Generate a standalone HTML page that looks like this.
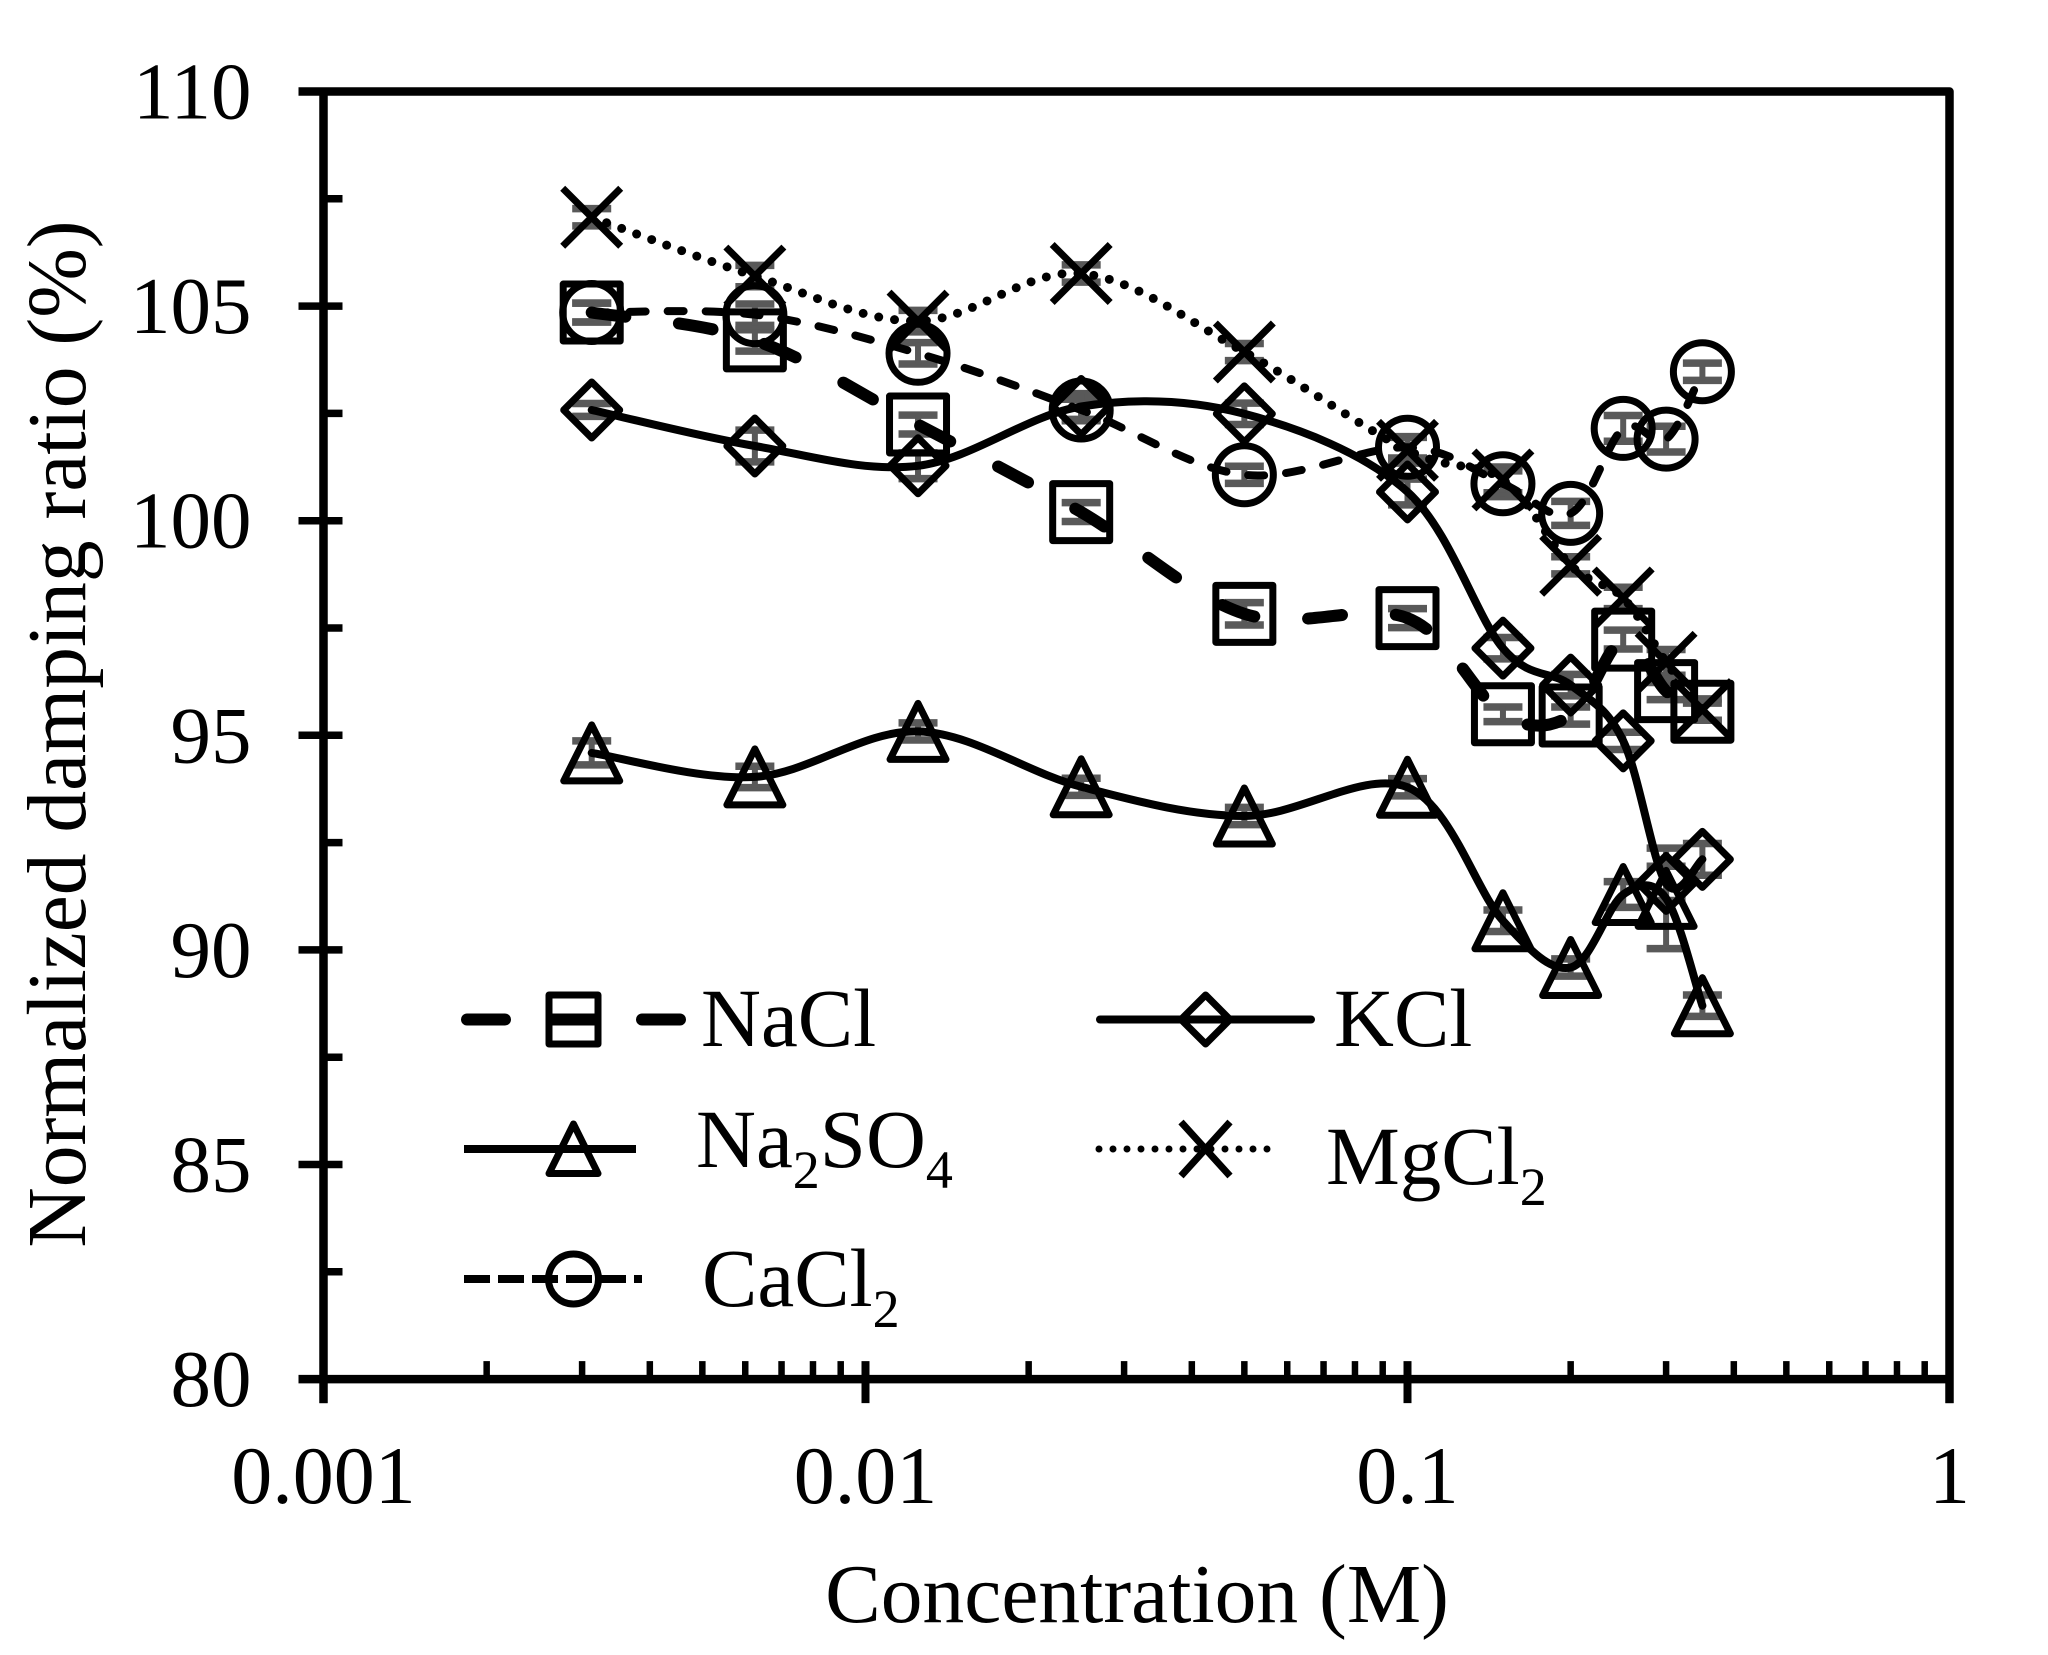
<!DOCTYPE html>
<html lang="en">
<head>
<meta charset="utf-8">
<title>Normalized damping ratio versus concentration</title>
<style>
html,body{margin:0;padding:0;background:#fff;}
svg{display:block;}
text{font-family:"Liberation Serif","Times New Roman",serif;fill:#000;}
</style>
</head>
<body>
<svg id="chart" xmlns="http://www.w3.org/2000/svg" width="2048" height="1655" viewBox="0 0 2048 1655">
<rect x="0" y="0" width="2048" height="1655" fill="#fff"/>
<g id="errors"></g>
<g id="series"></g>
<g id="axes"></g>
<text x="1137" y="1622" font-size="83.5" text-anchor="middle">Concentration (M)</text>
<text transform="translate(85 734) rotate(-90)" font-size="83.5" text-anchor="middle">Normalized damping ratio (%)</text>
<g>
  <g>
    <line x1="467" y1="1019.5" x2="680" y2="1019.5" stroke="#000" stroke-width="12" stroke-linecap="round" stroke-dasharray="38 47 43 47 38"/>
    <rect x="549" y="995" width="49" height="49" fill="none" stroke="#000" stroke-width="7" stroke-linejoin="round"/>
    <text x="701" y="1046" font-size="83">NaCl</text>
  </g>
  <g>
    <line x1="464" y1="1149" x2="636" y2="1149" stroke="#000" stroke-width="8"/>
    <path d="M573.5 1124 L598 1173.5 L549 1173.5 Z" fill="none" stroke="#000" stroke-width="7" stroke-linejoin="round"/>
    <text x="696" y="1167" font-size="83">Na<tspan font-size="54" dy="21">2</tspan><tspan dy="-21">SO</tspan><tspan font-size="54" dy="21">4</tspan></text>
  </g>
  <g>
    <line x1="464" y1="1279" x2="642" y2="1279" stroke="#000" stroke-width="8" stroke-dasharray="26 8"/>
    <circle cx="573.5" cy="1279" r="25" fill="none" stroke="#000" stroke-width="7"/>
    <text x="702" y="1306" font-size="83">CaCl<tspan font-size="54" dy="21">2</tspan></text>
  </g>
  <g>
    <line x1="1100" y1="1019.5" x2="1311" y2="1019.5" stroke="#000" stroke-width="8" stroke-linecap="round"/>
    <path d="M1205.6 995 L1230 1019.5 L1205.6 1044 L1181 1019.5 Z" fill="none" stroke="#000" stroke-width="7" stroke-linejoin="round"/>
    <text x="1334" y="1046" font-size="83">KCl</text>
  </g>
  <g>
    <line x1="1099" y1="1149" x2="1268" y2="1149" stroke="#000" stroke-width="7" stroke-linecap="round" stroke-dasharray="0 14"/>
    <path d="M1181 1122 L1230 1176 M1230 1122 L1181 1176" fill="none" stroke="#000" stroke-width="7"/>
    <text x="1326" y="1184" font-size="83">MgCl<tspan font-size="54" dy="21">2</tspan></text>
  </g>
</g>
</svg>
<script>
var concentrations = [0.003125, 0.00625, 0.0125, 0.025, 0.05, 0.1, 0.15, 0.2, 0.25, 0.3, 0.35];
var naclValues  = [104.85, 104.2, 102.24, 100.2, 97.83, 97.73, 95.49, 95.46, 97.23, 96.03, 95.55];
var na2so4Values = [94.59, 94.03, 95.09, 93.8, 93.12, 93.79, 90.68, 89.59, 91.29, 91.2, 88.7];
var cacl2Values = [104.85, 104.8, 103.9, 102.58, 101.07, 101.71, 100.86, 100.17, 102.15, 101.9, 103.47];
var kclValues   = [102.58, 101.74, 101.28, 102.66, 102.49, 100.67, 97.03, 96.17, 94.87, 91.55, 92.11];
var mgcl2Values = [107.07, 105.7, 104.65, 105.76, 103.93, 101.64, 100.95, 98.96, 98.2, 96.7, 95.6];
var naclErrors  = [0.22, 0.25, 0.22, 0.22, 0.26, 0.22, 0.17, 0.2, 0.22, 0.2, 0.2];
var na2so4Errors = [0.28, 0.25, 0.2, 0.2, 0.2, 0.2, 0.25, 0.2, 0.3, 1.17, 0.25];
var cacl2Errors = [0.22, 0.25, 0.25, 0.25, 0.2, 0.25, 0.3, 0.28, 0.3, 0.3, 0.2];
var kclErrors   = [0.15, 0.37, 0.3, 0.3, 0.25, 0.3, 0.25, 0.25, 0.2, 0.4, 0.37];
var mgcl2Errors = [0.2, 0.25, 0.25, 0.2, 0.2, 0.3, 0.3, 0.2, 0.25, 0.3, 0.25];
var yTickLabels = ["80", "85", "90", "95", "100", "105", "110"];
var xTickLabels = ["0.001", "0.01", "0.1", "1"];

var NS = 'http://www.w3.org/2000/svg';
var X0 = 323.5, XPER = 542;
var Y110 = 91.5, YPER = 42.92;
function xScale(v){ return X0 + (Math.log10(v) + 3) * XPER; }
function yScale(v){ return Y110 + (110 - v) * YPER; }

function make(tag, attrs, parent){
  var el = document.createElementNS(NS, tag);
  for (var k in attrs) { el.setAttribute(k, attrs[k]); }
  parent.appendChild(el);
  return el;
}

function smoothPath(xs, ys){
  var pts = xs.map(function(x, i){ return [xScale(x), yScale(ys[i])]; });
  var d = 'M' + pts[0][0].toFixed(1) + ' ' + pts[0][1].toFixed(1);
  for (var i = 0; i < pts.length - 1; i++) {
    var p0 = pts[Math.max(i - 1, 0)], p1 = pts[i], p2 = pts[i + 1], p3 = pts[Math.min(i + 2, pts.length - 1)];
    var c1x = p1[0] + (p2[0] - p0[0]) / 6, c1y = p1[1] + (p2[1] - p0[1]) / 6;
    var c2x = p2[0] - (p3[0] - p1[0]) / 6, c2y = p2[1] - (p3[1] - p1[1]) / 6;
    d += ' C' + c1x.toFixed(1) + ' ' + c1y.toFixed(1) + ' ' + c2x.toFixed(1) + ' ' + c2y.toFixed(1) + ' ' + p2[0].toFixed(1) + ' ' + p2[1].toFixed(1);
  }
  return d;
}

function drawMarker(kind, cx, cy, parent){
  var a = {fill: 'none', stroke: '#000', 'stroke-width': 7, 'stroke-linejoin': 'round'};
  var el;
  if (kind === 'circle') {
    a.cx = cx; a.cy = cy; a.r = 29;
    el = make('circle', a, parent);
  } else if (kind === 'square') {
    a.x = cx - 28.5; a.y = cy - 28.5; a.width = 57; a.height = 57;
    el = make('rect', a, parent);
  } else {
    var h = 28, d;
    if (kind === 'triangle') {
      d = 'M' + cx + ' ' + (cy - h) + ' L' + (cx + h) + ' ' + (cy + h) + ' L' + (cx - h) + ' ' + (cy + h) + ' Z';
    } else if (kind === 'diamond') {
      d = 'M' + cx + ' ' + (cy - h) + ' L' + (cx + h) + ' ' + cy + ' L' + cx + ' ' + (cy + h) + ' L' + (cx - h) + ' ' + cy + ' Z';
    } else {
      h = 29;
      d = 'M' + (cx - h) + ' ' + (cy - h) + ' L' + (cx + h) + ' ' + (cy + h) + ' M' + (cx + h) + ' ' + (cy - h) + ' L' + (cx - h) + ' ' + (cy + h);
    }
    a.d = d;
    el = make('path', a, parent);
  }
  return el;
}

var seriesList = [
  {key: 'nacl',   values: naclValues,   errors: naclErrors,   marker: 'square',   width: 12, dash: '34 54', cap: 'round'},
  {key: 'na2so4', values: na2so4Values, errors: na2so4Errors, marker: 'triangle', width: 8,  dash: '',      cap: 'round'},
  {key: 'cacl2',  values: cacl2Values,  errors: cacl2Errors,  marker: 'circle',   width: 8,  dash: '16 22', cap: 'round'},
  {key: 'kcl',    values: kclValues,    errors: kclErrors,    marker: 'diamond',  width: 8,  dash: '',      cap: 'round'},
  {key: 'mgcl2',  values: mgcl2Values,  errors: mgcl2Errors,  marker: 'cross',    width: 9,  dash: '0 16',  cap: 'round'}
];

var errGroup = document.getElementById('errors');
var serGroup = document.getElementById('series');

seriesList.forEach(function(s){
  s.values.forEach(function(v, i){
    var x = xScale(concentrations[i]);
    var top = yScale(v + s.errors[i]), bot = yScale(v - s.errors[i]);
    var caps = 'M' + (x - 19.5) + ' ' + top + ' H' + (x + 19.5) + ' M' + (x - 19.5) + ' ' + bot + ' H' + (x + 19.5);
    var eb = make('path', {d: caps, fill: 'none', stroke: '#595959', 'stroke-width': 7.5}, errGroup);
    
    
    var stem = make('line', {x1: x, x2: x, y1: top, y2: bot, stroke: '#595959', 'stroke-width': 6}, errGroup);
    
    
  });
});

seriesList.forEach(function(s){
  var g = make('g', {}, serGroup);
  
  
  var line = make('path', {d: smoothPath(concentrations, s.values), fill: 'none', stroke: '#000', 'stroke-width': s.width, 'stroke-linecap': s.cap, 'stroke-linejoin': 'round'}, g);
  if (s.dash) { line.setAttribute('stroke-dasharray', s.dash); }
  
  
  s.values.forEach(function(v, i){
    var m = drawMarker(s.marker, xScale(concentrations[i]), yScale(v), g);
    
    
  });
});

var axes = document.getElementById('axes');
var xMin = xScale(0.001), xMax = xScale(1), yTop = yScale(110), yBot = yScale(80);

var frame = make('path', {d: 'M' + (xMin - 25) + ' ' + yTop + ' H' + xMax + ' V' + (yBot + 24) + ' M' + (xMin - 25) + ' ' + yBot + ' H' + xMax + ' M' + xMin + ' ' + yTop + ' V' + (yBot + 24), fill: 'none', stroke: '#000', 'stroke-width': 8.5, 'stroke-linejoin': 'round'}, axes);



yTickLabels.forEach(function(lbl, i){
  var val = parseFloat(lbl);
  var y = yScale(val);
  var t = make('line', {x1: xMin - 25, x2: val === 110 ? xMin : xMin + 19, y1: y, y2: y, stroke: '#000', 'stroke-width': 7.5}, axes);
  
  
  var txt = make('text', {x: 251.5, y: y + 27, 'font-size': 81, 'text-anchor': 'end'}, axes);
  txt.textContent = lbl;
  
  
  if (i < yTickLabels.length - 1) {
    var my = yScale(val + 2.5);
    var mt = make('line', {x1: xMin, x2: xMin + 19, y1: my, y2: my, stroke: '#000', 'stroke-width': 7.5}, axes);
    
    
  }
});

xTickLabels.forEach(function(lbl, i){
  var val = parseFloat(lbl);
  var x = xScale(val);
  var t = make('line', {x1: x, x2: x, y1: yBot - 18, y2: yBot + 24, stroke: '#000', 'stroke-width': 8}, axes);
  
  
  var txt = make('text', {x: x, y: 1503, 'font-size': 82, 'text-anchor': 'middle'}, axes);
  txt.textContent = lbl;
  
  
  if (i < xTickLabels.length - 1) {
    for (var m = 2; m <= 9; m++) {
      var mx = xScale(val * m);
      var mt = make('line', {x1: mx, x2: mx, y1: yBot - 18, y2: yBot, stroke: '#000', 'stroke-width': 6.5}, axes);
      
      
    }
  }
});
</script>
</body>
</html>
